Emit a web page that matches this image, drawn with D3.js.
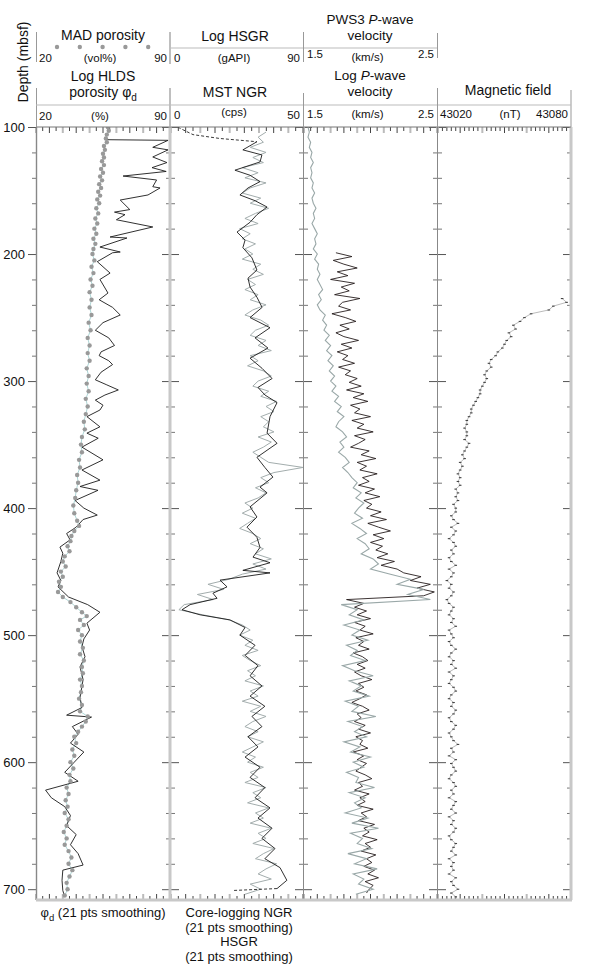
<!DOCTYPE html>
<html>
<head>
<meta charset="utf-8">
<script src="https://cdn.jsdelivr.net/npm/d3@7"></script>
<style>
  body { margin: 0; background: #fff; }
  text { font-family: "Liberation Sans", Arial, Helvetica, sans-serif; fill: #111; }
</style>
</head>
<body>
<svg id="chart" width="591" height="972"></svg>
<script>
// depth range of the plot (mbsf)
const depthDomain = [100, 708.5];
const depthMajor = [100, 200, 300, 400, 500, 600, 700];

// Track 1 - log HLDS porosity phi_d (21 pts smoothing), %
const phiDepth = [110, 110.5, 116, 118, 123.6, 128, 132, 135, 138.6, 141.7, 147, 148, 153.5, 157.5, 165, 167, 169, 173, 178.7, 186.6, 187.4, 194.5, 198.4, 199, 206, 215, 220, 230.7, 236, 242, 248, 254, 260, 266, 272, 277, 280, 284, 287, 293, 299, 303, 307, 311, 315, 319, 322.8, 328, 336, 341, 345, 352, 362, 370, 378, 383, 386, 394, 400, 405.5, 409, 415, 420, 425, 430.7, 435.5, 442, 451, 457, 462, 470, 476, 482, 490.6, 496, 503, 509, 517, 525, 535, 549, 557, 563, 564.5, 572, 578, 585, 592, 600, 608, 615, 622, 628, 635, 642, 650, 657, 665, 672, 681, 685, 693, 701, 706];
const phiValue = [57, 89, 81, 89, 81, 88.4, 80.6, 88, 65.5, 83, 81, 84.8, 78.5, 64, 69, 61, 66.5, 62, 81, 58.7, 67.5, 53.4, 64, 60, 52, 58.7, 53.4, 57.6, 53, 60, 64, 55, 51, 58, 61, 54, 53, 58, 60, 54, 51, 57, 63, 56, 51, 55, 53.4, 46.6, 53.4, 46.6, 52.5, 44, 55, 44, 53.4, 43, 52.4, 40.4, 45, 52, 44.6, 41, 36, 37.8, 32.5, 34, 33, 31, 33, 31.5, 37, 47, 53.4, 46.6, 48, 45, 44, 45.6, 43, 44.6, 43, 44, 36, 49, 39, 42, 38, 45, 40, 35, 42, 25, 28, 35, 38, 36, 41, 38, 42, 44.6, 34, 33.6, 34, 35];

// Track 1 - MAD porosity, vol%
const madDepth = [100, 103, 106, 109, 112, 115, 118, 121, 124, 127, 130, 133, 136, 139, 142, 145, 148, 151, 154, 157, 160, 164, 168, 172, 176, 180, 184, 188, 192, 196, 200, 205, 210, 215, 220, 225, 230, 236, 242, 248, 254, 260, 266, 272, 278, 284, 290, 296, 302, 308, 314, 320, 326, 332, 338, 344, 350, 356, 362, 368, 374, 380, 386, 392, 398, 404, 410, 414, 418, 422, 426, 430, 434, 438, 442, 446, 450, 454, 458, 462, 466, 470, 474, 478, 482, 485, 488, 492, 496, 500, 505, 510, 515, 520, 525, 530, 535, 540, 545, 550, 555, 560, 564, 568, 572, 576, 580, 585, 590, 595, 600, 605, 610, 615, 620, 625, 630, 635, 640, 645, 650, 655, 660, 665, 670, 675, 680, 685, 690, 695, 700, 705];
const madPorosity = [57.5, 58, 57, 56.5, 57, 55.5, 56, 55, 55.5, 54.5, 55.5, 54, 55, 53.5, 54.5, 53, 54, 52.5, 53.5, 52, 53, 51.5, 52.5, 51, 52, 50.5, 51.5, 50, 51, 50, 49.5, 50.5, 49, 50, 48.5, 49.5, 48, 49, 48, 49, 47.5, 48.5, 47, 48, 47, 48, 46.5, 47.5, 46.5, 47.5, 46, 47, 46, 45, 45.5, 44, 43.5, 44, 42.5, 43, 41.5, 42, 41, 40.5, 39.5, 40, 41.5, 42.5, 40, 38.5, 38, 36.5, 37.5, 35, 34, 35.5, 33, 34, 32, 33, 31.5, 34, 38, 41, 44, 46.5, 43, 45, 42, 44, 43, 44.5, 43, 45, 44, 44.5, 43, 44, 43.5, 42.5, 44, 43, 47, 46, 44, 42, 40, 41, 39, 40, 38, 39.5, 37.5, 38, 36, 37, 35.5, 36.5, 35, 37, 36, 34.5, 36, 35, 37, 38.5, 37, 39, 37.5, 36, 36.5, 35];

// Track 2 - HSGR (21 pts smoothing), gAPI
const hsgrDepth = [100, 101, 106, 109, 111.6, 118, 122, 127.5, 134, 138, 143, 148, 153.5, 158, 163, 169, 175, 182.7, 189, 195, 203, 212.6, 219, 226, 234, 242, 250, 258, 266, 274, 282, 290, 298, 305, 311, 317, 328, 341, 349, 360, 368, 375.6, 383.5, 388, 399, 407, 415, 423, 431, 438.6, 443, 449, 451, 456.7, 462, 467, 471, 476, 480, 484, 488, 494, 500, 508, 516, 524, 532, 540, 548, 556, 564, 572, 580, 588, 596, 604, 612, 620, 628, 636, 644, 652, 660, 668, 676, 683, 693, 699.5, 701];
const hsgrValue = [4.8, 6.1, 15, 33, 58.6, 49, 62, 60.7, 43.6, 53.9, 60.7, 52.5, 47, 57.3, 65.5, 58.6, 53.9, 45, 50.5, 49, 55.2, 58.6, 52.5, 53.9, 58.6, 62.1, 53.9, 67.5, 57.3, 66.1, 53.9, 62.1, 68.9, 59.3, 64.1, 72.3, 67.5, 65.5, 72.3, 58.6, 64, 69.5, 60.7, 65.5, 53.9, 58.6, 51.8, 58.6, 60.7, 55.9, 67.5, 49, 67.5, 33.4, 38.2, 28.6, 31.4, 13, 7.5, 19.8, 40.2, 50.5, 47, 57.3, 50.5, 59.3, 53.9, 62, 53.9, 64, 55.2, 62, 52.5, 59.3, 50.5, 60.7, 53.9, 64, 57.3, 67.5, 59.3, 68.9, 62, 70.9, 64, 74.3, 79, 72.3, 42.3];

// Track 2 - MST NGR, cps (every 4 m from 104 mbsf)
const ngrStart = 104, ngrStep = 4;
const ngrValue = [36, 33, 35, 30, 36, 31, 35, 27, 33, 28, 36, 30, 27, 34, 30, 37, 32, 28, 33, 26, 30, 27, 32, 28, 31, 27, 34, 31, 35, 29, 32, 28, 33, 30, 36, 31, 28, 34, 37, 32, 30, 36, 33, 38, 30, 33, 29, 35, 38, 33, 31, 37, 34, 40, 36, 39, 34, 37, 35, 39, 33, 38, 35, 31, 34, 37, 50, 39, 34, 37, 32, 36, 33, 28, 31, 27, 32, 29, 26, 31, 34, 30, 35, 32, 38, 31, 36, 27, 22, 14, 20, 10, 16, 5, 3, 12, 22, 27, 30, 26, 31, 28, 33, 27, 30, 34, 29, 32, 28, 35, 30, 33, 27, 34, 30, 36, 31, 28, 33, 29, 35, 31, 27, 32, 29, 35, 30, 33, 28, 36, 31, 34, 29, 37, 32, 35, 30, 38, 33, 36, 31, 39, 35, 32, 40, 36, 33, 38, 30, 34, 28];

// Track 3 - log P-wave velocity, km/s (every 4 m from 100 mbsf)
const vpLogStart = 100, vpLogStep = 4;
const vpLogValue = [1.53, 1.54, 1.53, 1.55, 1.54, 1.56, 1.55, 1.57, 1.55, 1.56, 1.55, 1.57, 1.56, 1.58, 1.56, 1.57, 1.59, 1.57, 1.58, 1.56, 1.58, 1.60, 1.58, 1.59, 1.57, 1.60,
  1.58, 1.61, 1.60, 1.62, 1.60, 1.62, 1.64, 1.61, 1.63, 1.60, 1.62, 1.66, 1.64, 1.67, 1.65, 1.69, 1.66, 1.70, 1.67, 1.71, 1.68, 1.72, 1.69, 1.73, 1.70,
  1.74, 1.71, 1.76, 1.73, 1.78, 1.75, 1.80, 1.76, 1.74, 1.79, 1.82, 1.77, 1.80, 1.76, 1.81, 1.84, 1.79, 1.83, 1.86, 1.90, 1.87, 1.93, 1.89, 1.95, 1.91,
  1.88, 1.94, 1.86, 1.92, 1.97, 1.90, 1.96, 1.99, 1.93, 2.02, 2.06, 2.00,
  2.15, 2.30, 2.20, 2.40, 2.28, 2.45,
  1.78, 1.90, 1.84, 1.95, 1.80, 1.92, 1.86, 1.98, 1.82, 1.90, 1.85, 1.96, 1.79, 1.88, 2.02, 1.84, 1.93, 1.87, 1.99, 1.81, 1.91, 1.86, 2.04, 1.83, 1.94, 1.88, 1.97, 1.80, 1.92, 1.85, 2.00, 1.87, 1.95, 1.82, 1.91, 1.89, 2.03, 1.84, 1.96, 1.88, 1.93, 1.81, 1.98, 1.86, 2.06, 1.85, 1.94, 1.90, 2.01, 1.83, 1.97, 1.88, 2.05, 1.87, 1.95, 1.91, 2.02, 1.89];

// Track 3 - PWS3 P-wave velocity, km/s (every 3 m from 199 mbsf)
const pws3Start = 199, pws3Step = 3;
const pws3Value = [1.74, 1.86, 1.72, 1.80, 1.90, 1.75, 1.83, 1.70, 1.88, 1.78, 1.84, 1.73, 1.92, 1.79, 1.76, 1.85, 1.71, 1.81, 1.89, 1.77, 1.84, 1.74, 1.80, 1.91, 1.78, 1.86, 1.75, 1.83, 1.79, 1.88, 1.76, 1.85, 1.81, 1.90,
  1.84, 1.93, 1.82, 1.95, 1.87, 1.98, 1.85, 1.92, 1.88, 2.00, 1.86, 1.95, 1.90, 2.02, 1.88, 1.96, 1.91, 1.85, 1.99, 1.93, 2.04, 1.90, 1.97, 1.92, 2.05, 1.94, 1.99, 1.91, 2.03, 1.96, 2.07, 1.95, 2.01,
  1.97, 2.08, 2.00, 2.12, 1.98, 2.06, 2.15, 2.02, 2.10, 2.00, 2.09, 2.04, 2.13, 2.05, 2.18, 2.08, 2.20,
  2.25, 2.38, 2.30, 2.45, 2.35, 2.48, 2.40,
  1.82, 1.95, 1.88,
  1.97, 1.90, 2.00, 1.88, 1.96, 1.92, 2.02, 1.89, 1.95, 1.91, 1.99, 1.87, 1.94, 1.98, 1.90, 1.96, 1.88, 1.93, 2.01, 1.91, 1.95, 1.89, 1.97, 1.92, 1.86, 1.94, 1.99, 1.90, 1.93, 1.88, 1.96, 1.91, 2.00, 1.89, 1.94, 1.92, 1.98, 1.87, 1.95, 1.90, 1.97, 1.93, 1.89, 1.96, 2.01, 1.91, 1.94, 1.88, 1.99, 1.92, 1.96, 1.90, 2.02, 1.93, 1.97, 1.91, 2.03, 1.95, 1.99, 1.94, 2.05, 1.96, 2.00, 1.93, 2.04, 1.97, 2.01, 1.95, 2.03, 1.98, 2.06, 1.96, 2.02, 1.99, 1.97];

// Track 4 - magnetic field, nT (every 3 m from 235 mbsf)
const magStart = 235, magStep = 3;
const magValue = [43076, 43078, 43072, 43070, 43062, 43059, 43057, 43054, 43055, 43052, 43053, 43051, 43050, 43049, 43047, 43046, 43044, 43043, 43044, 43042, 43041, 43042, 43041, 43040, 43039, 43039, 43038, 43037, 43036, 43035, 43035, 43034, 43033, 43033, 43032, 43033, 43033, 43032, 43034, 43033,
  43032, 43031, 43032, 43030, 43031, 43030, 43029, 43030, 43029, 43030, 43028, 43029, 43028, 43029, 43027, 43028,
  43028, 43026, 43027, 43029, 43026, 43028, 43027, 43025, 43027, 43028, 43026, 43027, 43025, 43026, 43028, 43025, 43027, 43026, 43024, 43026, 43025, 43027, 43026, 43024, 43025, 43027, 43026, 43025, 43027, 43026, 43028, 43025, 43026, 43027, 43025, 43026, 43028, 43026, 43025, 43027, 43026, 43028, 43025, 43027, 43026, 43025, 43027, 43028, 43026, 43025, 43027, 43026, 43028, 43027, 43025, 43026, 43028, 43027, 43025, 43026, 43027, 43029, 43026, 43027, 43025, 43028, 43026, 43027, 43028, 43026, 43025, 43027, 43028, 43026, 43027, 43025, 43028, 43027, 43026, 43028, 43025, 43027, 43026, 43028, 43027, 43025, 43026, 43028, 43027, 43026, 43028, 43025, 43027, 43026,
  43027, 43025, 43028, 43026, 43027, 43029, 43026, 43028, 43027];

// header scale labels
const porLabels = ['20', '90'];
const grLabels = ['0', '90'];
const ngrLabels = ['0', '50'];
const vpLabels = ['1.5', '2.5'];
const magLabels = ['43020', '43080'];

// ---------------------------------------------------------------
const svg = d3.select('#chart');
const plotTop = 127, plotBottom = 900;

const y = d3.scaleLinear().domain(depthDomain).range([plotTop, plotBottom]);

const xPor = d3.scaleLinear().domain([20, 90]).range([36, 170]);
const xGr = d3.scaleLinear().domain([0, 90]).range([171, 303]);
const xNgr = d3.scaleLinear().domain([0, 50]).range([171, 303]);
const xVp = d3.scaleLinear().domain([1.5, 2.5]).range([304, 437]);
const xMag = d3.scaleLinear().domain([43020, 43080]).range([438, 571]);

const tracks = [
  { x: xPor, step: 3.5, longEvery: 2 },
  { x: xGr, step: 5, longEvery: 2 },
  { x: xVp, step: 0.05, longEvery: 2 },
  { x: xMag, step: 2, longEvery: 5 }
];

// regular sampled series -> [depth, value] pairs
function sampled(start, step, values) {
  return values.map((v, i) => [start + i * step, v]);
}
function paired(depths, values) {
  return depths.map((d, i) => [d, values[i]]);
}

const plot = svg.append('g');

// clip to the plot area
svg.append('clipPath').attr('id', 'plotclip')
  .append('rect').attr('x', 36).attr('y', plotTop).attr('width', 535).attr('height', plotBottom - plotTop);

// ---------- frame ticks ----------
const minorDepths = d3.range(120, 701, 20).filter(d => d % 100 !== 0);

tracks.forEach((t, i) => {
  const [x0, x1] = t.x.range();
  // inner side ticks
  if (i > 0) {
    plot.append('g').attr('transform', `translate(${x0},0)`)
      .call(d3.axisRight(y).tickValues(depthMajor).tickSize(8).tickFormat(''))
      .call(g => g.select('.domain').remove())
      .selectAll('line').attr('stroke', '#555');
    plot.append('g').attr('transform', `translate(${x0},0)`)
      .call(d3.axisRight(y).tickValues(minorDepths).tickSize(4).tickFormat(''))
      .call(g => g.select('.domain').remove())
      .selectAll('line').attr('stroke', '#777');
  }
  plot.append('g').attr('transform', `translate(${x1},0)`)
    .call(d3.axisLeft(y).tickValues(depthMajor).tickSize(8).tickFormat(''))
    .call(g => g.select('.domain').remove())
    .selectAll('line').attr('stroke', '#555');
  plot.append('g').attr('transform', `translate(${x1},0)`)
    .call(d3.axisLeft(y).tickValues(minorDepths).tickSize(4).tickFormat(''))
    .call(g => g.select('.domain').remove())
    .selectAll('line').attr('stroke', '#777');

  // top & bottom ticks
  const [v0, v1] = t.x.domain();
  const vals = d3.range(0, Math.round((v1 - v0) / t.step) + 1).map(k => v0 + k * t.step);
  vals.forEach((v, k) => {
    const len = k % t.longEvery === 0 ? 6 : 4;
    const grey = k % (t.longEvery * 2) === 0;
    const col = grey ? '#bbb' : '#444';
    plot.append('line').attr('x1', t.x(v)).attr('x2', t.x(v))
      .attr('y1', plotTop).attr('y2', plotTop + len).attr('stroke', col).attr('stroke-width', grey ? 2 : 1);
    plot.append('line').attr('x1', t.x(v)).attr('x2', t.x(v))
      .attr('y1', plotBottom).attr('y2', plotBottom - len).attr('stroke', col).attr('stroke-width', grey ? 2 : 1);
  });
});

// depth axis (left of track 1)
const depthAxis = plot.append('g').attr('transform', 'translate(36,0)')
  .call(d3.axisLeft(y).tickValues(depthMajor).tickSize(8).tickPadding(3));
depthAxis.select('.domain').remove();
depthAxis.selectAll('line').attr('stroke', '#555');
depthAxis.selectAll('text').attr('font-size', 13).style('font-family', '"Liberation Sans", Arial, sans-serif').attr('fill', '#111');
plot.append('g').attr('transform', 'translate(36,0)')
  .call(d3.axisLeft(y).tickValues(minorDepths).tickSize(4).tickFormat(''))
  .call(g => g.select('.domain').remove())
  .selectAll('line').attr('stroke', '#777');

// ---------- data ----------
const data = svg.append('g').attr('clip-path', 'url(#plotclip)');
const line = (xs) => d3.line().x(d => xs(d[1])).y(d => y(d[0]));

// track 1
const madPts = paired(madDepth, madPorosity);
data.append('path').datum(madPts).attr('d', line(xPor))
  .attr('fill', 'none').attr('stroke', '#9cc').attr('stroke-width', 0.8);
data.append('path').datum(paired(phiDepth, phiValue)).attr('d', line(xPor))
  .attr('fill', 'none').attr('stroke', '#1a1a1a').attr('stroke-width', 0.9);
data.selectAll('.mad').data(madPts).join('circle').attr('class', 'mad')
  .attr('cx', d => xPor(d[1])).attr('cy', d => y(d[0])).attr('r', 2.2).attr('fill', '#999');

// track 2
data.append('path').datum(sampled(ngrStart, ngrStep, ngrValue)).attr('d', line(xNgr))
  .attr('fill', 'none').attr('stroke', '#a3adad').attr('stroke-width', 1);
const hsgrPts = paired(hsgrDepth, hsgrValue);
data.append('path').datum(hsgrPts.filter(d => d[0] <= 111.6)).attr('d', line(xGr))
  .attr('fill', 'none').attr('stroke', '#222').attr('stroke-width', 0.9).attr('stroke-dasharray', '3,2');
data.append('path').datum(hsgrPts.filter(d => d[0] >= 111.6 && d[0] <= 699.5)).attr('d', line(xGr))
  .attr('fill', 'none').attr('stroke', '#1a1a1a').attr('stroke-width', 0.9);
data.append('path').datum(hsgrPts.filter(d => d[0] >= 699.5)).attr('d', line(xGr))
  .attr('fill', 'none').attr('stroke', '#222').attr('stroke-width', 0.9).attr('stroke-dasharray', '3,2');

// track 3
data.append('path').datum(sampled(pws3Start, pws3Step, pws3Value)).attr('d', line(xVp))
  .attr('fill', 'none').attr('stroke', '#1a1010').attr('stroke-width', 0.85);
data.append('path').datum(sampled(vpLogStart, vpLogStep, vpLogValue)).attr('d', line(xVp))
  .attr('fill', 'none').attr('stroke', '#9aa8a8').attr('stroke-width', 1.1);

// track 4
const magPts = sampled(magStart, magStep, magValue);
data.append('path').datum(magPts).attr('d', line(xMag))
  .attr('fill', 'none').attr('stroke', '#aaa').attr('stroke-width', 0.8);
data.selectAll('.mag').data(magPts).join('rect').attr('class', 'mag')
  .attr('x', d => xMag(d[1]) - 1.3).attr('y', d => y(d[0]) - 0.5).attr('width', 2.6).attr('height', 1.1).attr('fill', '#444');

// ---------- frames ----------
const frame = svg.append('g');
const vline = (x, y1, y2, col, w) => frame.append('line').attr('x1', x).attr('x2', x)
  .attr('y1', y1).attr('y2', y2).attr('stroke', col).attr('stroke-width', w);
const hline = (x1, x2, yy, col, w) => frame.append('line').attr('x1', x1).attr('x2', x2)
  .attr('y1', yy).attr('y2', yy).attr('stroke', col).attr('stroke-width', w);

vline(36.5, plotTop, plotBottom, '#888', 1.4);
vline(170, plotTop, plotBottom, '#c8c8c8', 3);
vline(303.5, plotTop, plotBottom, '#888', 1);
vline(437.5, plotTop, plotBottom, '#888', 1);
vline(571, plotTop, plotBottom, '#c8c8c8', 3);
hline(36, 571, plotTop, '#777', 1);
hline(36, 572, plotBottom, '#c8c8c8', 3);

// ---------- headers ----------
const hdr = svg.append('g');
function txt(x, yy, s, size, anchor) {
  return hdr.append('text').attr('x', x).attr('y', yy).attr('font-size', size)
    .attr('text-anchor', anchor || 'middle').text(s);
}
function scaleRow(xs, yy, labels, unit, size, unitY) {
  const [x0, x1] = xs.range();
  txt(x0 + 3, yy, labels[0], size, 'start');
  txt(x1 - 3, yy, labels[1], size, 'end');
  txt((x0 + x1) / 2 - 3, unitY || yy, unit, size);
}

// header vertical dividers
vline(36.5, 32, 62, '#999', 1);
vline(170, 32, 64, '#aaa', 1.5);
vline(303.5, 32, 62, '#999', 1);
vline(437.5, 33, 58, '#999', 1);
vline(36.5, 88, plotTop, '#999', 1);
vline(170, 88, plotTop, '#aaa', 1.5);
vline(303.5, 93, plotTop, '#999', 1);
vline(437.5, 88, plotTop, '#999', 1);
vline(571, 90, plotTop, '#999', 1);

// track 1
txt(103, 40, 'MAD  porosity', 14);
d3.range(5).forEach(i => hdr.append('circle').attr('cx', 57 + i * 22.8).attr('cy', 47).attr('r', 2.2).attr('fill', '#999'));
scaleRow(xPor, 62, porLabels, '(vol%)', 11.5);
txt(103, 81, 'Log HLDS', 14);
const por = txt(103, 97, 'porosity \u03c6', 14);
por.append('tspan').attr('dy', 4).attr('font-size', 10).text('d');
hline(36, 170, 105, '#bbb', 1);
scaleRow(xPor, 120, porLabels, '(%)', 11.5);

// track 2
txt(235, 41, 'Log HSGR', 14);
hline(171, 303, 48, '#bbb', 1);
scaleRow(xGr, 62, grLabels, '(gAPI)', 11.5);
txt(235, 97, 'MST NGR', 14);
hline(171, 303, 105, '#bbb', 1);
scaleRow(xNgr, 119, ngrLabels, '(cps)', 11.5, 116);

// track 3
const p1 = txt(370, 24, 'PWS3 ', 13.5);
p1.append('tspan').attr('font-style', 'italic').text('P');
p1.append('tspan').text('-wave');
txt(370, 39.5, 'velocity', 13.5);
hline(304, 437, 48, '#bbb', 1);
scaleRow(xVp, 58, vpLabels, '(km/s)', 11.5, 61);
const p2 = txt(370, 80, 'Log ', 13.5);
p2.append('tspan').attr('font-style', 'italic').text('P');
p2.append('tspan').text('-wave');
txt(370, 95.5, 'velocity', 13.5);
hline(304, 437, 105, '#bbb', 1);
scaleRow(xVp, 118, vpLabels, '(km/s)', 11.5);

// track 4
txt(508, 95, 'Magnetic  field', 14);
hline(438, 571, 105, '#bbb', 1);
const [m0, m1] = xMag.range();
txt(m0 + 2, 118, magLabels[0], 11.5, 'start');
txt(m1 - 3, 118, magLabels[1], 11.5, 'end');
txt(510, 118, '(nT)', 11.5);

// depth title
hdr.append('text').attr('transform', 'translate(28,62) rotate(-90)')
  .attr('text-anchor', 'middle').attr('font-size', 14).text('Depth (mbsf)');

// bottom captions
const c1 = txt(103, 917, '\u03c6', 13);
c1.append('tspan').attr('dy', 4).attr('font-size', 9.5).text('d');
c1.append('tspan').attr('dy', -4).text(' (21 pts smoothing)');
txt(239, 917, 'Core-logging NGR', 13);
txt(239, 931.5, '(21 pts smoothing)', 13);
txt(239, 946, 'HSGR', 13);
txt(239, 960.5, '(21 pts smoothing)', 13);
</script>
</body>
</html>
